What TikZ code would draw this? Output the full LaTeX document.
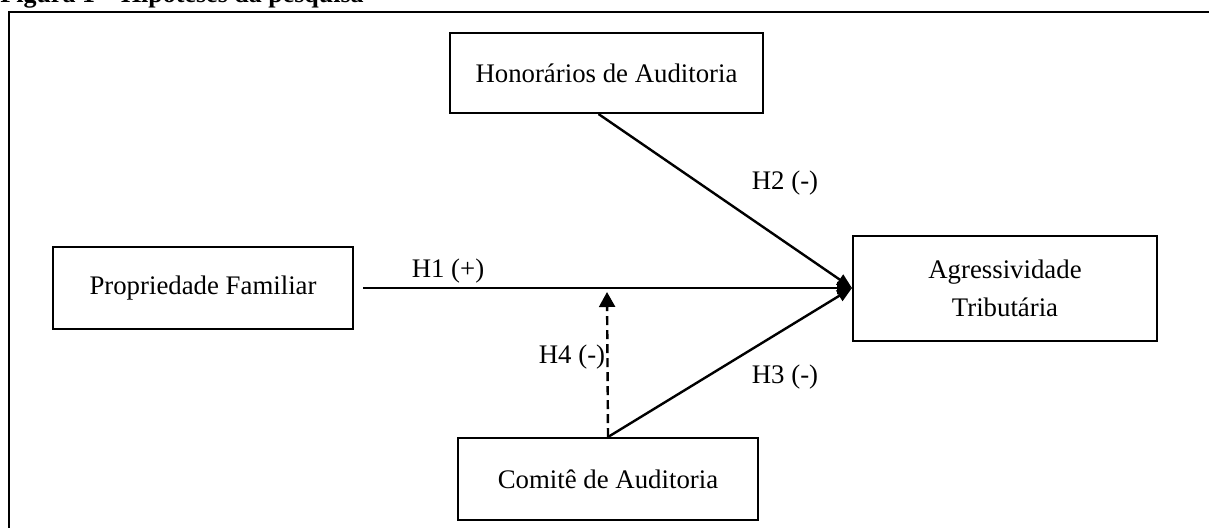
\documentclass[tikz,border=0pt]{standalone}
\usepackage{fontspec}
\setmainfont{Liberation Serif}
\usepackage{tikz}
\usetikzlibrary{arrows.meta}
\usetikzlibrary{positioning}

\begin{document}
\begin{tikzpicture}[x=0.5pt,y=-0.5pt,
        box/.style={draw,line width=1pt,minimum width=#1,inner sep=0pt,font=\fontsize{13.4}{19}\selectfont,align=center},
        lbl/.style={font=\fontsize{13.4}{16}\selectfont,inner sep=0pt},
        arr/.style={line width=1.2pt,-{Triangle[length=7.5pt,width=6pt]}}]
        \useasboundingbox (0,0) rectangle (1209,527);

        % titulo e moldura
        \node[anchor=base west,font=\bfseries\fontsize{13}{16}\selectfont,inner sep=0pt] (titulo) at (0,2) {Figura 1 -- Hipóteses da pesquisa};
        \draw[line width=1pt] (9,560) -- (9,12) -- (1230,12);

        % variaveis
        \node[box=156.5pt,minimum height=40pt] (hon) at (606.5,73) {Honorários de Auditoria};
        \node[box=150pt,minimum height=41pt] (prop) at (203,288) {Propriedade Familiar};
        \node[box=152pt,minimum height=52.5pt] (agr) at (1005,288) {Agressividade\\Tributária};
        \node[box=150pt,minimum height=41pt] (com) at (608,479) {Comitê de Auditoria};

        \coordinate (mod) at (607,292);

        % hipoteses
        \draw[arr] ([xshift=4.5pt]prop.east) -- (agr.west);
        \draw[arr] ([xshift=-4pt]hon.south) -- (agr.west);
        \draw[arr] (com.north) -- (agr.west);
        \draw[line width=1.2pt,dash pattern=on 4.5pt off 2.5pt,-{Triangle[length=7.5pt,width=8pt]}] (com.north) -- (mod);

        \node[lbl] (h1) at (448,271) {H1 (+)};
        \node[lbl] (h2) at (785,183) {H2 (-)};
        \node[lbl] (h3) at (785,377) {H3 (-)};
        \node[lbl] (h4) at (572,357) {H4 (-)};
      \end{tikzpicture}
\end{document}
